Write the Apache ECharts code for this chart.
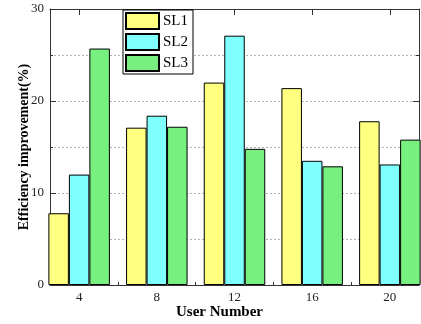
<!DOCTYPE html>
<html>
<head>
<meta charset="utf-8">
<script src="https://cdn.jsdelivr.net/npm/echarts@6/dist/echarts.min.js"></script>
<style>html,body{margin:0;padding:0;background:#fff}#c{width:421px;height:324px}</style>
</head>
<body>
<div id="c"></div>
<script>
const categories = [4, 8, 12, 16, 20];
const minorXTicks = [6, 10, 14, 18];
const sl1 = [7.8, 17.1, 22.0, 21.4, 17.8];
const sl2 = [12.0, 18.4, 27.1, 13.5, 13.1];
const sl3 = [25.7, 17.2, 14.8, 12.9, 15.8];
const seriesNames = ['SL1', 'SL2', 'SL3'];
const seriesColors = ['#ffff80', '#80ffff', '#78f080'];

const font = 'Liberation Serif, Times New Roman, serif';
const chart = echarts.init(document.getElementById('c'), null, {renderer: 'canvas'});
const lineStyle = {color: '#333', width: 1};
const pairs = arr => categories.map((c, i) => [c, arr[i]]);

chart.setOption({
  animation: false,
  grid: {left: 50, right: 2, top: 9, bottom: 39, containLabel: false, outerBoundsMode: 'none'},
  legend: {
    orient: 'vertical', left: 123, top: 10,
    itemWidth: 33, itemHeight: 16, itemGap: 3,
    padding: [2, 5, 2, 2],
    borderColor: '#000', borderWidth: 1, backgroundColor: '#fff',
    textStyle: {fontFamily: font, fontSize: 15, color: '#000', padding: [0, 0, 0, -1]},
    icon: 'rect',
    data: seriesNames
  },
  xAxis: [
    {
      type: 'value', min: 2.5, max: 21.5, position: 'bottom',
      name: 'User Number', nameLocation: 'middle', nameGap: 20, nameMoveOverlap: false,
      nameTextStyle: {fontFamily: font, fontSize: 15, fontWeight: 'bold', color: '#000', padding: [0, 30, 0, 0], verticalAlign: 'top'},
      axisLine: {show: true, lineStyle},
      axisTick: {show: true, inside: true, length: 6, lineStyle, customValues: categories},
      axisLabel: {show: true, margin: 6, fontFamily: font, fontSize: 13, color: '#222', customValues: categories},
      splitLine: {show: false}
    },
    {
      type: 'value', min: 2.5, max: 21.5, position: 'bottom',
      axisLine: {show: false},
      axisTick: {show: true, inside: true, length: 3, lineStyle, customValues: minorXTicks},
      axisLabel: {show: false},
      splitLine: {show: false}
    },
    {
      type: 'value', min: 2.5, max: 21.5, position: 'top',
      axisLine: {show: true, lineStyle},
      axisTick: {show: true, inside: true, length: 6, lineStyle, customValues: categories},
      axisLabel: {show: false},
      splitLine: {show: false}
    }
  ],
  yAxis: [
    {
      type: 'value', min: 0, max: 30, interval: 10, position: 'left',
      name: 'Efficiency improvement(%)', nameLocation: 'middle', nameGap: 19, nameMoveOverlap: false,
      nameTextStyle: {fontFamily: font, fontSize: 14, fontWeight: 'bold', color: '#000'},
      axisLine: {show: true, lineStyle},
      axisTick: {show: true, inside: true, length: 6, lineStyle},
      minorTick: {show: true, splitNumber: 2, length: 3, lineStyle},
      axisLabel: {margin: 6, fontFamily: font, fontSize: 13, color: '#222'},
      splitLine: {show: true, lineStyle: {color: '#b0b0b0', type: [2, 2], width: 1}},
      minorSplitLine: {show: true, lineStyle: {color: '#b0b0b0', type: [2, 2], width: 1}}
    },
    {
      type: 'value', min: 0, max: 30, interval: 10, position: 'right',
      axisLine: {show: true, lineStyle},
      axisTick: {show: true, inside: true, length: 6, lineStyle},
      minorTick: {show: true, splitNumber: 2, length: 3, lineStyle},
      axisLabel: {show: false},
      splitLine: {show: false}
    }
  ],
  series: [sl1, sl2, sl3].map((d, i) => ({
    name: seriesNames[i], type: 'bar', xAxisIndex: 0, yAxisIndex: 0,
    data: pairs(d), barWidth: 20.5, barGap: '0%',
    itemStyle: {color: seriesColors[i], borderColor: '#000', borderWidth: 1},
    z: 1
  }))
});
</script>
</body>
</html>
